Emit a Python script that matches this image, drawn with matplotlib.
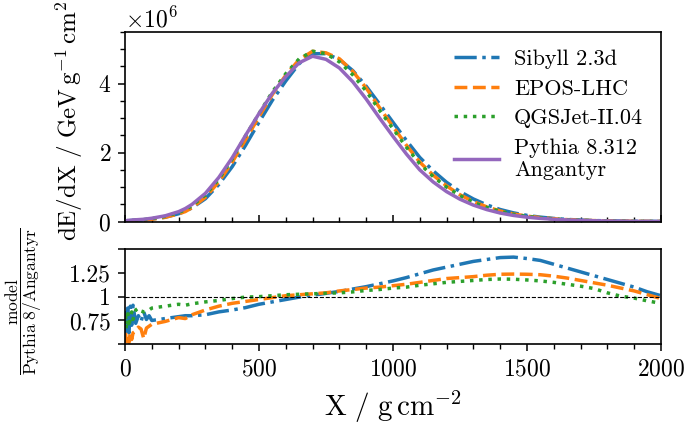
import numpy as np
import matplotlib
matplotlib.use("Agg")
import matplotlib.pyplot as plt
from matplotlib.ticker import MultipleLocator, FixedLocator, FixedFormatter

plt.rcParams.update({
    "font.family": "serif",
    "font.serif": ["cmr10", "DejaVu Serif"],
    "mathtext.fontset": "cm",
    "axes.formatter.use_mathtext": True,
    "axes.unicode_minus": False,
    "font.size": 17,
})

# slant depth grid (g/cm^2)
X = [2, 5, 10, 15, 20, 25, 30, 40, 50, 60, 70, 80, 90, 100, 150, 200, 225, 250,
     300, 350, 400, 450, 500, 550, 600, 650, 700, 750, 800, 850, 900, 950, 1000,
     1050, 1100, 1150, 1200, 1250, 1300, 1350, 1400, 1450, 1500, 1550, 1600,
     1650, 1700, 1750, 1800, 1850, 1900, 1950, 2000]

# Pythia 8.312 Angantyr energy deposit profile, in units of 1e6 GeV g^-1 cm^2
pythia_dedx = [0.03, 0.03, 0.035, 0.04, 0.04, 0.045, 0.05, 0.055, 0.06, 0.065,
               0.07, 0.08, 0.09, 0.10, 0.17, 0.29, 0.38, 0.50, 0.82, 1.28, 1.85,
               2.50, 3.13, 3.72, 4.20, 4.60, 4.79, 4.70, 4.45, 4.05, 3.55, 3.00,
               2.47, 1.96, 1.50, 1.15, 0.87, 0.65, 0.48, 0.35, 0.25, 0.18, 0.13,
               0.095, 0.07, 0.05, 0.037, 0.027, 0.02, 0.015, 0.011, 0.008, 0.006]

# ratios model / Pythia 8 Angantyr
ratio_sibyll = [0.85, 0.60, 0.88, 0.62, 0.90, 0.70, 0.91, 0.72, 0.80, 0.74,
                0.84, 0.76, 0.80, 0.75, 0.77, 0.79, 0.80, 0.80, 0.81, 0.84,
                0.86, 0.885, 0.92, 0.945, 0.97, 0.995, 1.015, 1.035, 1.055,
                1.08, 1.105, 1.135, 1.165, 1.20, 1.24, 1.28, 1.31, 1.34, 1.37,
                1.39, 1.41, 1.415, 1.40, 1.38, 1.34, 1.30, 1.26, 1.22, 1.18,
                1.14, 1.10, 1.05, 1.01]
ratio_epos = [0.62, 0.53, 0.60, 0.52, 0.63, 0.55, 0.62, 0.64, 0.68, 0.66,
              0.56, 0.67, 0.69, 0.71, 0.74, 0.78, 0.77, 0.81, 0.86, 0.90,
              0.93, 0.95, 0.97, 0.99, 1.01, 1.02, 1.03, 1.04, 1.06, 1.075,
              1.09, 1.10, 1.115, 1.13, 1.15, 1.17, 1.19, 1.20, 1.21, 1.225,
              1.235, 1.237, 1.235, 1.23, 1.215, 1.195, 1.17, 1.145, 1.12,
              1.09, 1.06, 1.02, 0.98]
ratio_qgsjet = [0.80, 0.66, 0.82, 0.68, 0.79, 0.84, 0.76, 0.86, 0.88, 0.85,
                0.84, 0.85, 0.86, 0.88, 0.90, 0.92, 0.91, 0.925, 0.945, 0.96,
                0.98, 0.995, 1.00, 1.01, 1.02, 1.025, 1.03, 1.035, 1.04, 1.05,
                1.065, 1.075, 1.09, 1.10, 1.12, 1.135, 1.15, 1.16, 1.17, 1.18,
                1.185, 1.183, 1.175, 1.165, 1.15, 1.13, 1.11, 1.085, 1.04,
                1.005, 0.985, 0.955, 0.93]

X = np.array(X)
pythia = np.array(pythia_dedx) * 1e6
models = [
    ("Sibyll 2.3d", np.array(ratio_sibyll), "#1f77b4", "-."),
    ("EPOS-LHC", np.array(ratio_epos), "#ff7f0e", "--"),
    ("QGSJet-II.04", np.array(ratio_qgsjet), "#2ca02c", ":"),
]

fig = plt.figure(figsize=(6.86, 4.25), dpi=100)
ax1 = fig.add_axes([0.1822, 0.4784, 0.7813, 0.447])
ax2 = fig.add_axes([0.1822, 0.1899, 0.7813, 0.2242], sharex=ax1)

lw = 2.5
for name, r, c, ls in models:
    ax1.plot(X, r * pythia, color=c, ls=ls, lw=lw, label=name)
    ax2.plot(X, r, color=c, ls=ls, lw=lw)
ax1.plot(X, pythia, color="#9467bd", ls="-", lw=lw, label="Pythia 8.312\nAngantyr")
ax2.axhline(1.0, color="black", ls="--", lw=0.8)

ax1.set_xlim(0, 2000)
ax1.set_ylim(0, 5.5e6)
ax1.yaxis.set_major_locator(MultipleLocator(2e6))
ax1.yaxis.set_minor_locator(MultipleLocator(0.5e6))
ax1.xaxis.set_major_locator(MultipleLocator(500))
ax1.xaxis.set_minor_locator(MultipleLocator(100))
ax1.tick_params(axis="x", which="both", direction="in", labelbottom=False)
for ax in (ax1, ax2):
    ax.tick_params(axis="both", which="major", length=5, width=1.1, pad=5,
                   labelsize=17)
    ax.tick_params(axis="both", which="minor", length=3.5, width=1.0)
    for s in ax.spines.values():
        s.set_linewidth(1.2)

ax1.set_ylabel(r"$\mathrm{dE/dX\ /\ GeV\,g^{-1}\,cm^{2}}$", fontsize=18)
ax1.yaxis.set_label_coords(-0.075, 0.53)
ax1.yaxis.get_offset_text().set_fontsize(17)

ax2.set_ylim(0.5, 1.5)
ax2.yaxis.set_major_locator(FixedLocator([0.5, 0.75, 1.0, 1.25, 1.5]))
ax2.yaxis.set_major_formatter(FixedFormatter(["", "0.75", "1", "1.25", ""]))
ax2.set_xlabel(r"$\mathrm{X\ /\ g\,cm^{-2}}$", fontsize=21, labelpad=6)
ax2.set_ylabel(r"$\dfrac{\mathrm{model}}{\mathrm{Pythia\ 8/Angantyr}}$", fontsize=12.5)
ax2.yaxis.set_label_coords(-0.152, 0.45)

ax1.legend(loc="upper right", frameon=False, fontsize=16, handlelength=2.0,
           handletextpad=0.7, borderaxespad=0.4, labelspacing=0.45)

fig.savefig("out.png", dpi=100)
